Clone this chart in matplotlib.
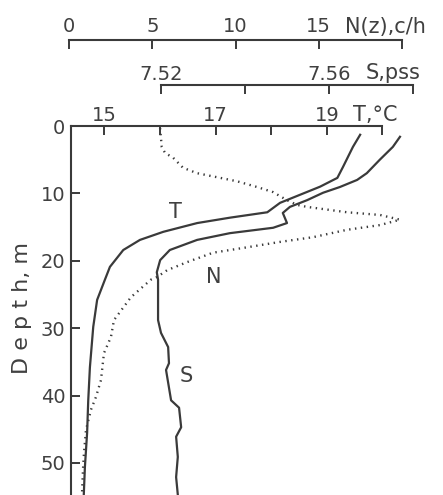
import matplotlib
matplotlib.use("Agg")
import matplotlib.pyplot as plt

# profiles
depth_T = [1.3, 3.1, 4.6, 6.1, 7.7, 9.0, 10.2, 11.4, 12.8, 13.6, 14.4, 15.7,
           16.9, 18.4, 20.9, 22.8, 25.8, 29.8, 35.8, 40.7, 45.5, 50.6, 54.7]
temp = [19.60, 19.47, 19.38, 19.29, 19.19, 18.88, 18.52, 18.16, 17.93, 17.26,
        16.67, 16.06, 15.64, 15.34, 15.10, 15.01, 14.87, 14.80, 14.74, 14.71,
        14.69, 14.65, 14.63]

depth_S = [1.6, 3.1, 5.0, 7.0, 8.0, 9.05, 9.9, 11.0, 12.0, 12.9, 14.4, 15.1,
           15.9, 16.9, 18.4, 19.9, 21.7, 22.8, 28.8, 30.7, 32.8, 35.2, 36.2,
           40.7, 41.8, 44.7, 46.1, 49.1, 52.1, 54.7]
sal = [7.5769, 7.5752, 7.5721, 7.5690, 7.5667, 7.5626, 7.5586, 7.5548, 7.5507,
       7.5490, 7.5500, 7.5467, 7.5364, 7.5286, 7.5221, 7.5198, 7.5190, 7.5193,
       7.5193, 7.5200, 7.5217, 7.5219, 7.5212, 7.5224, 7.5243, 7.5248, 7.5236,
       7.5240, 7.5236, 7.5240]

depth_N = [0.3, 3.1, 4.0, 4.7, 6.2, 7.0, 7.6, 8.2, 9.05, 9.8, 11.0, 11.7, 12.0,
           12.8, 13.2, 13.9, 14.7, 15.4, 16.5, 17.2, 18.0, 18.8, 20.2, 21.4,
           22.4, 22.8, 25.4, 28.8, 31.3, 33.7, 37.7, 40.2, 42.1, 45.1, 48.5,
           51.0, 54.7]
nfreq = [5.47, 5.57, 5.77, 6.25, 6.85, 7.69, 8.89, 10.09, 11.29, 12.25, 13.09,
         13.69, 14.29, 16.70, 18.68, 19.88, 18.68, 16.70, 14.65, 12.67, 10.69,
         8.65, 7.09, 5.89, 5.29, 4.92, 3.72, 2.70, 2.52, 2.10, 1.92, 1.62, 1.32,
         1.02, 0.90, 0.84, 0.78]

depth_ticks = [0, 10, 20, 30, 40, 50]
t_ticks = [15, 16, 17, 18, 19, 20]
t_labels = ['15', '', '17', '', '19', '']
s_ticks = [7.52, 7.54, 7.56, 7.58]
s_labels = ['7.52', '', '7.56', '']
n_ticks = [0, 5, 10, 15, 20]
n_labels = ['0', '5', '10', '15', '']

INK = '#3a3a3a'
TXT = '#404040'
W, H = 443, 495

plt.rcParams['font.family'] = 'DejaVu Sans'
plt.rcParams['text.color'] = TXT

fig = plt.figure(figsize=(W / 100, H / 100), dpi=100)
top = 369 / H
ax = fig.add_axes([71 / W, 0, (W - 71) / W, top])
axS = fig.add_axes([71 / W, 0, (W - 71) / W, top], sharey=ax)
axN = fig.add_axes([69 / W, 0, (W - 69) / W, top], sharey=ax)

ax.set_ylim(54.75, 0)
ax.set_xlim(14.40, 21.09)
axS.set_xlim(7.52 - 90 * 0.02 / 84, 7.52 + 282 * 0.02 / 84)
axN.set_xlim(0, (W - 69) / 16.65)

ax.plot(temp, depth_T, color=INK, lw=1.6)
axS.plot(sal, depth_S, color=INK, lw=1.6)
axN.plot(nfreq, depth_N, color=INK, lw=1.7, linestyle=(0, (0.6, 1.9)))

for a in (ax, axS, axN):
    a.patch.set_visible(False)
    for side in ('right', 'bottom'):
        a.spines[side].set_visible(False)
    a.spines['top'].set_color(INK)
    a.spines['top'].set_linewidth(1.5)
    a.xaxis.tick_top()
    a.tick_params(axis='x', direction='in', length=6.5, width=1.4,
                  colors=INK, labelcolor=TXT, labelsize=14)
for a in (axS, axN):
    a.spines['left'].set_visible(False)
    a.yaxis.set_visible(False)

ax.spines['left'].set_color(INK)
ax.spines['left'].set_linewidth(1.5)
ax.spines['top'].set_bounds(14.40, 20)
axS.spines['top'].set_bounds(7.52, 7.58)
axN.spines['top'].set_bounds(0, 20)
axS.spines['top'].set_position(('outward', 29.5))
axN.spines['top'].set_position(('outward', 62))

ax.set_xticks(t_ticks, t_labels)
axS.set_xticks(s_ticks, s_labels)
axN.set_xticks(n_ticks, n_labels)
ax.tick_params(axis='x', pad=0.5)
axS.tick_params(axis='x', pad=1)
axN.tick_params(axis='x', pad=2.5)

ax.set_yticks(depth_ticks)
ax.tick_params(axis='y', direction='in', length=6.5, width=1.4, pad=4,
               colors=INK, labelcolor=TXT, labelsize=14)

# axis titles at the right end of each scale
fig.text(345 / W, 1 - 33 / H, 'N(z),c/h', fontsize=15, va='baseline')
fig.text(366 / W, 1 - 79 / H, 'S,pss', fontsize=15, va='baseline')
fig.text(353 / W, 1 - 121 / H, 'T,°C', fontsize=15, va='baseline')
fig.text(22 / W, 1 - 308 / H, 'D e p t h, m', fontsize=16, rotation=90,
         ha='center', va='center')

# curve labels
ax.text(16.27, 12.8, 'T', fontsize=15, ha='center', va='center')
ax.text(16.97, 22.4, 'N', fontsize=15, ha='center', va='center')
ax.text(16.47, 37.1, 'S', fontsize=15, ha='center', va='center')

fig.savefig('out.png', dpi=100)
